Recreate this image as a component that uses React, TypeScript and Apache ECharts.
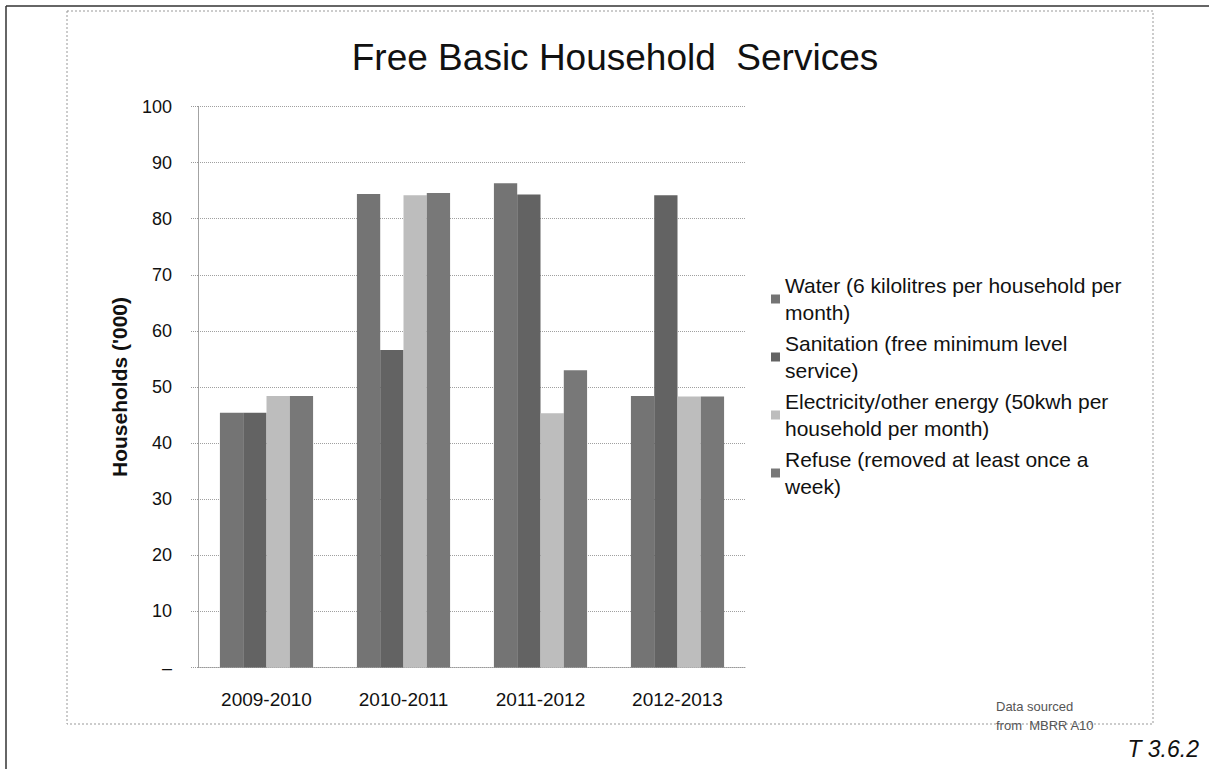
import React, { useEffect, useRef } from "react";
import * as echarts from "echarts";

const categories = ["2009-2010", "2010-2011", "2011-2012", "2012-2013"];
const seriesNames = [
  "Water (6 kilolitres per household per month)",
  "Sanitation (free minimum level service)",
  "Electricity/other energy (50kwh per household per month)",
  "Refuse (removed at least once a week)",
];
const legendLabels = [
  "Water (6 kilolitres per household per\nmonth)",
  "Sanitation (free minimum level\nservice)",
  "Electricity/other energy (50kwh per\nhousehold per month)",
  "Refuse (removed at least once a\nweek)",
];
const water = [45.4, 84.4, 86.3, 48.4];
const sanitation = [45.4, 56.6, 84.3, 84.2];
const electricity = [48.4, 84.2, 45.3, 48.3];
const refuse = [48.4, 84.6, 53.0, 48.3];
const seriesValues = [water, sanitation, electricity, refuse];
const seriesColors = ["#747474", "#636363", "#bdbdbd", "#787878"];

const FONT = "'Liberation Sans', Arial, sans-serif";

export default function App() {
  const ref = useRef<HTMLDivElement>(null);
  useEffect(() => {
    document.body.style.margin = "0";
    if (!ref.current) return;
    const chart = echarts.init(ref.current, null, { renderer: "svg" });
    const labelMap: Record<string, string> = {};
    seriesNames.forEach((n, i) => (labelMap[n] = legendLabels[i]));
    chart.setOption({
      animation: false,
      backgroundColor: "#ffffff",
      textStyle: { fontFamily: FONT },
      title: {
        text: "Free Basic Household  Services",
        left: 610,
        top: 34,
        textAlign: "center",
        textStyle: { fontSize: 37, fontWeight: "normal", color: "#111", fontFamily: FONT },
      },
      grid: { left: 198, right: 463, top: 106.5, bottom: 101.5, containLabel: false },
      legend: {
        orient: "vertical",
        left: 766,
        top: 267,
        itemWidth: 9,
        itemHeight: 9,
        itemGap: 4,
        icon: "rect",
        data: seriesNames,
        formatter: (n: string) => labelMap[n] || n,
        textStyle: { fontSize: 21, lineHeight: 27, color: "#111", fontFamily: FONT },
      },
      xAxis: {
        type: "category",
        data: categories,
        axisLine: { show: true, lineStyle: { color: "#999", type: "dotted", width: 1 } },
        axisTick: { show: false },
        axisLabel: { fontSize: 19, color: "#111", margin: 22, fontFamily: FONT },
      },
      yAxis: {
        type: "value",
        min: 0,
        max: 100,
        interval: 10,
        name: "Households ('000)",
        nameLocation: "middle",
        nameGap: 68,
        nameTextStyle: { fontSize: 21, fontWeight: "bold", color: "#111", fontFamily: FONT },
        axisLine: { show: true, lineStyle: { color: "#999", type: "dotted", width: 1 } },
        axisTick: { show: true, length: 7, lineStyle: { color: "#999", type: "dotted" } },
        axisLabel: {
          fontSize: 18,
          color: "#111",
          margin: 26,
          fontFamily: FONT,
          formatter: (v: number) => (v === 0 ? "–" : String(v)),
        },
        splitLine: { show: true, lineStyle: { color: "#a0a0a0", type: "dotted", width: 1 } },
      },
      series: seriesNames.map((name, i) => ({
        name,
        type: "bar",
        data: seriesValues[i],
        barGap: "0%",
        barCategoryGap: "32%",
        itemStyle: { color: seriesColors[i] },
      })),
      graphic: [
        { type: "line", shape: { x1: 6, y1: 6, x2: 1209, y2: 6 }, style: { stroke: "#333", lineWidth: 1.5 } },
        { type: "line", shape: { x1: 6, y1: 6, x2: 6, y2: 769 }, style: { stroke: "#333", lineWidth: 1.5 } },
        {
          type: "rect",
          shape: { x: 67, y: 11, width: 1086, height: 713 },
          style: { fill: "none", stroke: "#999", lineWidth: 1, lineDash: [2, 2] },
        },
        {
          type: "text",
          x: 996,
          y: 697,
          style: {
            text: "Data sourced\nfrom  MBRR A10",
            fontSize: 13,
            lineHeight: 19,
            fill: "#555",
            fontFamily: FONT,
          },
        },
        {
          type: "text",
          x: 1199,
          y: 749,
          style: {
            text: "T 3.6.2",
            fontSize: 23,
            fontStyle: "italic",
            fill: "#111",
            align: "right",
            verticalAlign: "middle",
            fontFamily: FONT,
          },
        },
      ],
    });
    return () => chart.dispose();
  }, []);
  return <div ref={ref} style={{ width: 1209, height: 769 }} />;
}
